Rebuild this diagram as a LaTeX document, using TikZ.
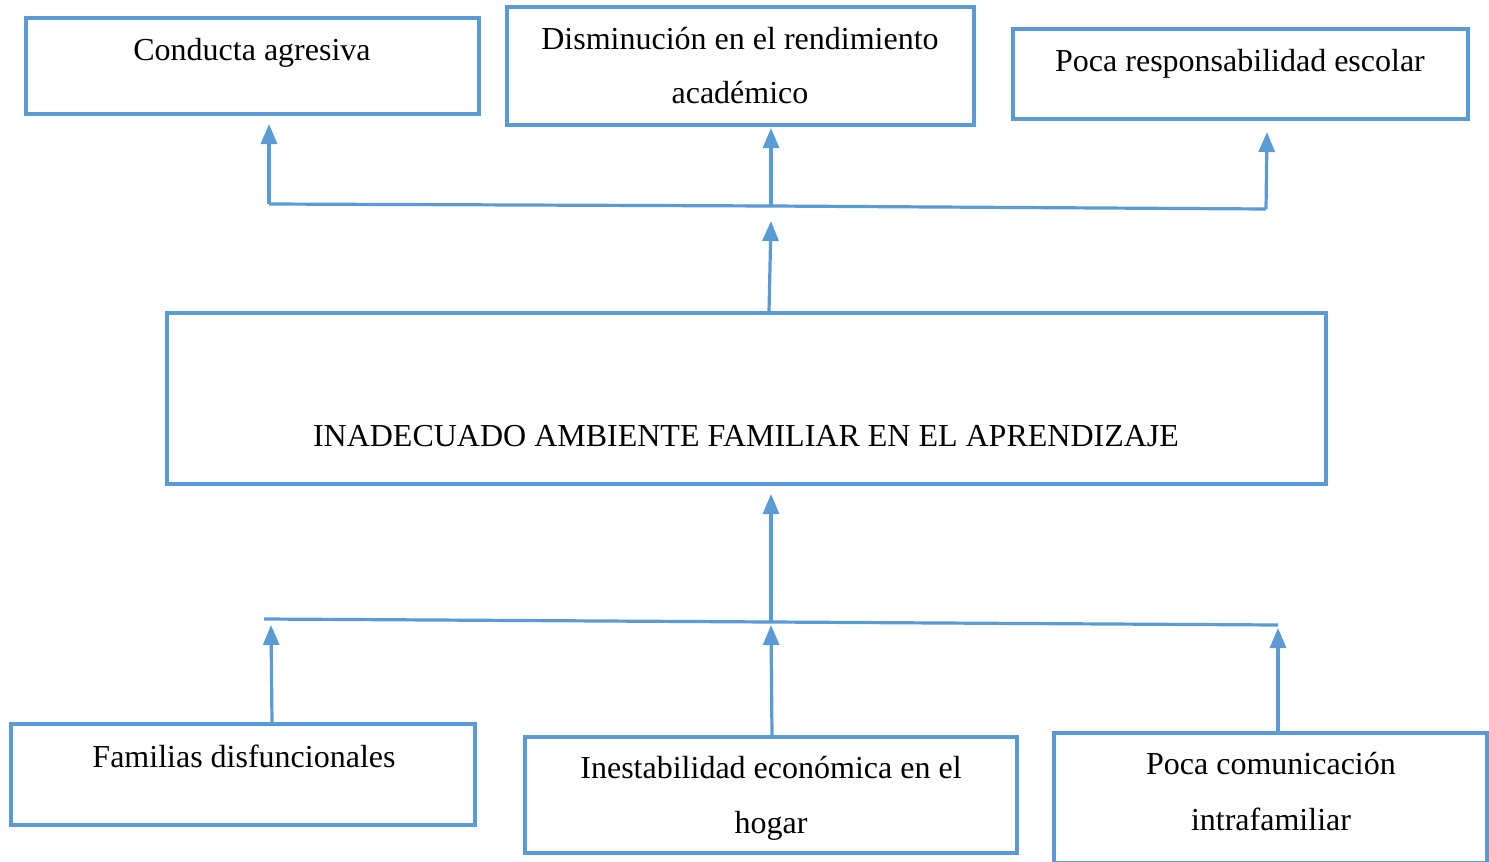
\documentclass[tikz,border=0pt]{standalone}
\usepackage{fontspec}
\setmainfont{Liberation Serif}
\usetikzlibrary{arrows.meta}
\definecolor{lineblue}{HTML}{5B9BD5}
\tikzset{
  box/.style={draw=lineblue, line width=1.6pt, rectangle, inner sep=0pt, outer sep=0pt},
  txt/.style={anchor=base, inner sep=0pt, font=\fontsize{16}{19}\selectfont},
  conn/.style={draw=lineblue, line width=1.6pt},
  arr/.style={conn, -{Triangle[width=8pt,length=10pt]}}
}
\begin{document}
\begin{tikzpicture}[x=0.5pt,y=-0.5pt]
\useasboundingbox (0,0) rectangle (1489,862);
% top boxes
\node[box, minimum width=453*0.5pt, minimum height=96*0.5pt] (b1) at (252.5,66) {};
\node[box, minimum width=467*0.5pt, minimum height=118*0.5pt] (b2) at (740.5,66) {};
\node[box, minimum width=455*0.5pt, minimum height=90*0.5pt] (b3) at (1240.5,74) {};
\node[txt] (t1) at (252,61) {Conducta agresiva};
\node[txt] (t2a) at (740,49) {Disminución en el rendimiento};
\node[txt] (t2b) at (740,103.5) {académico};
\node[txt] (t3) at (1240,71) {Poca responsabilidad escolar};
% main box
\node[box, minimum width=1159*0.5pt, minimum height=171*0.5pt] (m) at (746.5,398.5) {};
\node[txt] (tm) at (746,446.5) {INADECUADO AMBIENTE FAMILIAR EN EL APRENDIZAJE};
% bottom boxes
\node[box, minimum width=464*0.5pt, minimum height=101*0.5pt] (b4) at (243,774.5) {};
\node[box, minimum width=492*0.5pt, minimum height=116*0.5pt] (b5) at (771,795) {};
\node[box, minimum width=433*0.5pt, minimum height=130*0.5pt] (b6) at (1270.5,798) {};
\node[txt] (t4) at (244,767) {Familias disfuncionales};
\node[txt] (t5a) at (771,778.5) {Inestabilidad económica en el};
\node[txt] (t5b) at (771,833.5) {hogar};
\node[txt] (t6a) at (1271,774.5) {Poca comunicación};
\node[txt] (t6b) at (1271,830.5) {intrafamiliar};
% top connector
\coordinate (hl) at (269,204);
\coordinate (hm) at (771,206);
\coordinate (hr) at (1266,209);
\coordinate (a1) at (269,124);
\coordinate (a2) at (771,128);
\coordinate (a3) at (1267,132);
\coordinate (mt) at (769,312);
\coordinate (ma) at (771,221);
\draw[conn] (hl) -- (hm) -- (hr);
\draw[arr] (hl) -- (a1);
\draw[arr] (hm) -- (a2);
\draw[arr] (hr) -- (a3);
\draw[arr] (mt) -- (ma);
% bottom connector
\coordinate (ll) at (264,619);
\coordinate (lm) at (771,622);
\coordinate (lr) at (1278,625);
\coordinate (mb) at (771,494);
\coordinate (c1) at (271,625);
\coordinate (c2) at (771,625);
\coordinate (c3) at (1278,628);
\coordinate (s1) at (272,723);
\coordinate (s2) at (772,736);
\coordinate (s3) at (1278,732);
\draw[conn] (ll) -- (lm) -- (lr);
\draw[arr] (lm) -- (mb);
\draw[arr] (s1) -- (c1);
\draw[arr] (s2) -- (c2);
\draw[arr] (s3) -- (c3);
\end{tikzpicture}
\end{document}
